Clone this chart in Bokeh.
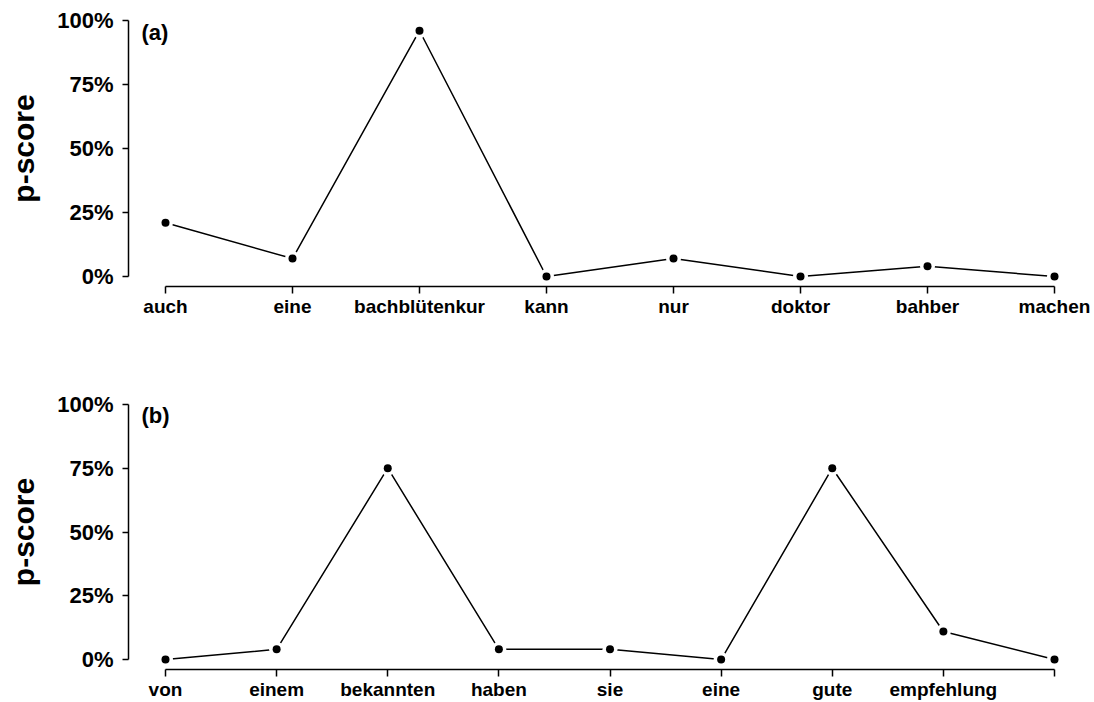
from bokeh.plotting import figure
from bokeh.layouts import column
from bokeh.models import FixedTicker, NumeralTickFormatter, Label, Range1d
from bokeh.embed import file_html
from bokeh.resources import INLINE

# ---- data ----
words_a = ["auch", "eine", "bachblütenkur", "kann", "nur", "doktor", "bahber", "machen"]
pscore_a = [0.21, 0.07, 0.96, 0.0, 0.07, 0.0, 0.04, 0.0]

words_b = ["von", "einem", "bekannten", "haben", "sie", "eine", "gute", "empfehlung", ""]
pscore_b = [0.0, 0.04, 0.75, 0.04, 0.04, 0.0, 0.75, 0.11, 0.0]

y_ticks = [0, 0.25, 0.5, 0.75, 1.0]

FONT = "Liberation Sans"
FIG_W = 1092
LEFT = 128
RIGHT = 2


def panel(words, scores, tag, height, top_border, bottom_border):
    n = len(words)
    xs = list(range(n))
    unit = 889.0 / (n - 1)
    xstart = -37.0 / unit
    frame_w = FIG_W - LEFT - RIGHT
    xend = xstart + frame_w / unit
    p = figure(width=FIG_W, height=height, output_backend="svg", toolbar_location=None,
               x_range=Range1d(xstart, xend), y_range=Range1d(-10 / 256, 1 + 10 / 256),
               min_border_left=LEFT, min_border_right=RIGHT,
               min_border_top=top_border, min_border_bottom=bottom_border)
    p.outline_line_color = None
    p.grid.visible = False
    p.background_fill_color = "white"
    p.border_fill_color = "white"

    p.line(xs, scores, line_color="black", line_width=1.5)
    p.scatter(xs, scores, size=15, fill_color="white", line_color=None)
    p.scatter(xs, scores, size=8, fill_color="black", line_color=None)

    # x axis
    xa = p.xaxis[0]
    xa.ticker = FixedTicker(ticks=xs)
    xa.major_label_overrides = {i: w for i, w in enumerate(words)}
    xa.bounds = (0, n - 1)
    xa.minor_tick_line_color = None
    xa.major_tick_in = 0
    xa.major_tick_out = 7
    xa.major_label_standoff = 2
    xa.axis_line_width = 1.5
    xa.major_tick_line_width = 1.5
    xa.major_label_text_font = FONT
    xa.major_label_text_font_style = "bold"
    xa.major_label_text_font_size = "19px"
    xa.major_label_text_color = "black"

    # y axis
    ya = p.yaxis[0]
    ya.ticker = FixedTicker(ticks=y_ticks)
    ya.formatter = NumeralTickFormatter(format="0%")
    ya.bounds = (0, 1)
    ya.minor_tick_line_color = None
    ya.major_tick_in = 0
    ya.major_tick_out = 6
    ya.major_label_standoff = 9
    ya.axis_line_width = 1.5
    ya.major_tick_line_width = 1.5
    ya.major_label_text_font = FONT
    ya.major_label_text_font_style = "bold"
    ya.major_label_text_font_size = "22px"
    ya.major_label_text_color = "black"
    ya.axis_label = "p-score"
    ya.axis_label_text_font = FONT
    ya.axis_label_text_font_style = "bold"
    ya.axis_label_text_font_size = "30px"
    ya.axis_label_text_color = "black"
    ya.axis_label_standoff = 14

    p.add_layout(Label(x=-24.0 / unit, y=0.955, text=tag,
                       text_font=FONT, text_font_style="bold",
                       text_font_size="22px", text_baseline="middle",
                       text_align="left", text_color="black"))
    return p


pa = panel(words_a, pscore_a, "(a)", 384, 10, 98)
pb = panel(words_b, pscore_b, "(b)", 318, 10, 32)

layout = column(pa, pb, spacing=0)
open("out.html", "w").write(file_html(layout, INLINE))
